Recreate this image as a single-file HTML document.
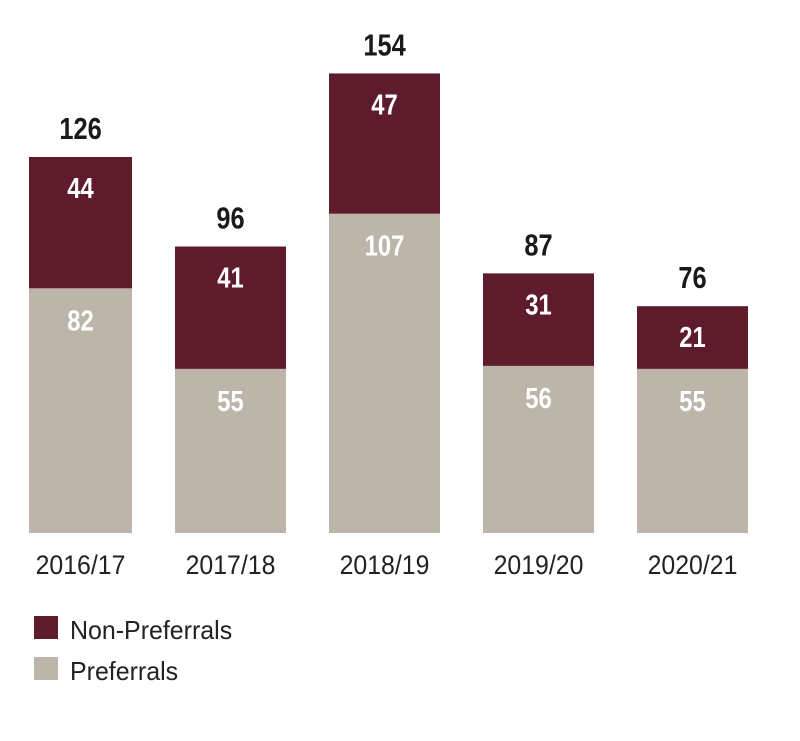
<!DOCTYPE html>
<html><head><meta charset="utf-8"><style>
body{margin:0;background:#fff;width:800px;height:741px;overflow:hidden}
svg{display:block}
.n{font-family:"Liberation Sans",sans-serif;font-weight:bold}
.t{font-family:"Liberation Sans",sans-serif}
</style></head><body>
<svg id="chart" width="800" height="741">
<g id="bars"></g>
<g>
<rect x="34" y="616" width="24" height="23" fill="#5e1b2c"/>
<text x="70" y="639" class="t" font-size="26" fill="#222" transform="translate(70,0) scale(0.96,1) translate(-70,0)">Non-Preferrals</text>
<rect x="34" y="657" width="24" height="23" fill="#bcb5a9"/>
<text x="70" y="680" class="t" font-size="26" fill="#222" transform="translate(70,0) scale(0.96,1) translate(-70,0)">Preferrals</text>
</g>
</svg>
<script>
const categories=["2016/17","2017/18","2018/19","2019/20","2020/21"];
const preferrals=[82,55,107,56,55];
const nonPreferrals=[44,41,47,31,21];
const ns="http://www.w3.org/2000/svg";
const base=533, k=376/126;
function y(v){return base-v*k;}
function xl(i){return i===0?29:175+(i-1)*154;}
function bwid(i){return i===0?103:111;}
const g=document.getElementById('bars');
function mk(tag,attrs,txt){const e=document.createElementNS(ns,tag);for(const a in attrs)e.setAttribute(a,attrs[a]);if(txt!==undefined)e.textContent=txt;g.appendChild(e);return e;}
function lbl(txt,cx,yy,size,fill,cls,sx){
  return mk('text',{x:0,y:0,'text-anchor':'middle','font-size':size,fill:fill,'class':cls,transform:'translate('+cx+','+yy+') scale('+sx+',1)'},txt);
}
categories.forEach((c,i)=>{
  const p=preferrals[i],q=nonPreferrals[i],tot=p+q,x=xl(i),bw=bwid(i),cx=x+bw/2;
  const r1=mk('rect',{x:x,y:y(p),width:bw,height:base-y(p),fill:'#bcb5a9'});
  
  
  const r2=mk('rect',{x:x,y:y(tot),width:bw,height:y(p)-y(tot),fill:'#5e1b2c'});
  
  
  const t1=lbl(p,cx,y(p)+42,29,'#fff','n',0.82);
  
  
  const t2=lbl(q,cx,y(tot)+41,29,'#fff','n',0.82);
  
  
  const t3=lbl(tot,cx,y(tot)-18,31,'#1a1a1a','n',0.82);
  
  
  const t4=lbl(c,cx,574,27,'#222','t',0.92);
  
  
});
</script>
</body></html>
